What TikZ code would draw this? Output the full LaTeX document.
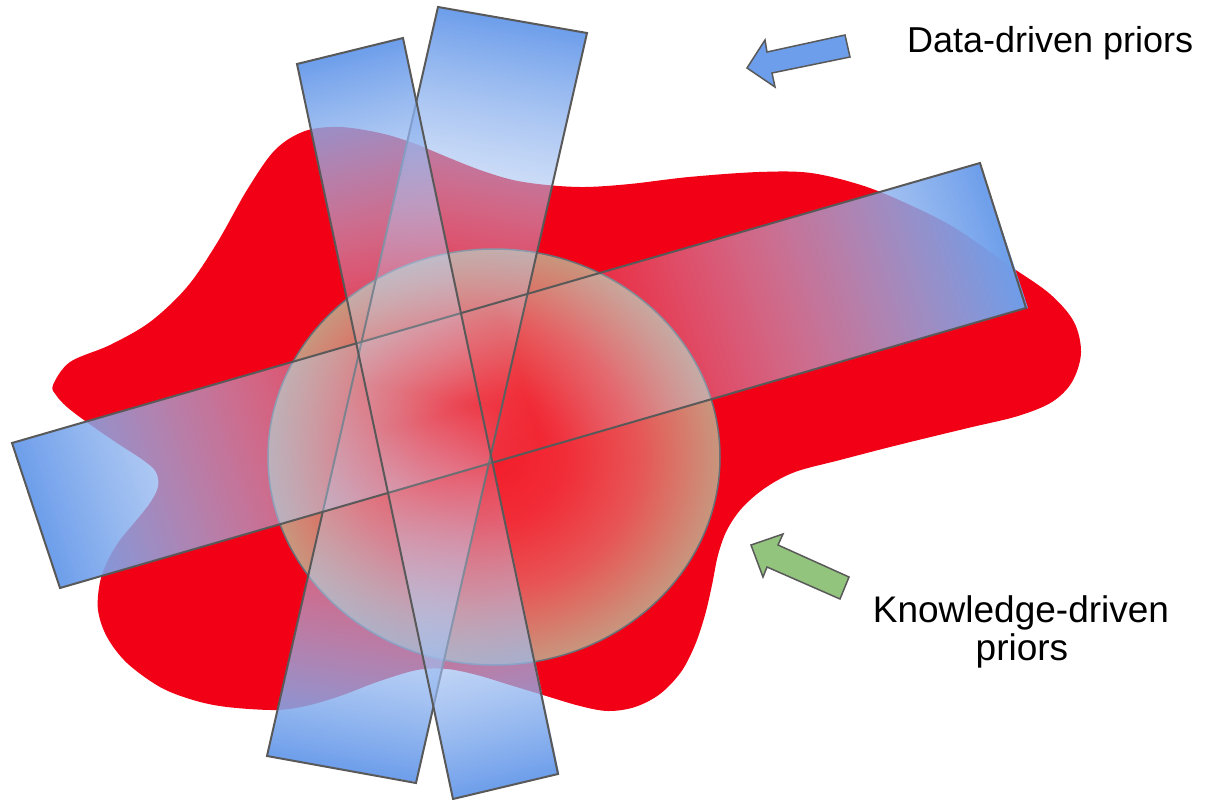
\documentclass[tikz,border=0pt]{standalone}
\usepackage{fontspec}
\setmainfont{Liberation Sans}
\usetikzlibrary{fadings}
\definecolor{blobred}{RGB}{242,0,22}
\definecolor{rblue}{RGB}{109,158,235}
\definecolor{rlight}{RGB}{178,202,243}
\definecolor{rwhite}{RGB}{222,233,252}
\definecolor{edgegrey}{RGB}{89,89,89}
\definecolor{circedge}{RGB}{105,112,118}
\definecolor{arrblue}{RGB}{109,158,235}
\definecolor{arrgreen}{RGB}{147,196,125}
\definecolor{fo}{gray}{1}
\definecolor{fm}{gray}{0.5}
\definecolor{ft}{gray}{0}
\definecolor{cc0}{RGB}{243,28,42}
\definecolor{cc1}{RGB}{241,45,56}
\definecolor{cc2}{RGB}{231,85,86}
\definecolor{cc3}{RGB}{215,122,107}
\definecolor{cc4}{RGB}{200,150,126}
\pgfdeclarehorizontalshading{rectshade}{100bp}{color(0bp)=(rblue); color(25bp)=(rblue); color(37bp)=(rlight); color(50bp)=(rwhite); color(63bp)=(rlight); color(75bp)=(rblue); color(100bp)=(rblue)}
\pgfdeclarehorizontalshading{rectfadeshade}{100bp}{color(0bp)=(fo); color(25bp)=(fo); color(50bp)=(ft); color(75bp)=(fo); color(100bp)=(fo)}
\pgfdeclareradialshading{circshade}{\pgfpointorigin}{color(0bp)=(cc0); color(8bp)=(cc1); color(16bp)=(cc2); color(21bp)=(cc3); color(25bp)=(cc4); color(50bp)=(cc4)}
\tikzfading[name=rectfade, shading=rectfadeshade]
\tikzset{
  rectfill/.style={shading=rectshade, path fading=rectfade},
  rectedge/.style={draw=edgegrey, line width=2pt, line join=miter},
  arrowshape/.style={draw=edgegrey, line width=1.5pt, line join=miter},
  lbl/.style={inner sep=0pt, text=black},
}
\begin{document}
\begin{tikzpicture}[x=1pt,y=-1pt]
\useasboundingbox (0,0) rectangle (1211,800);
\fill[white] (0,0) rectangle (1211,800);
% red blob
\fill[blobred] plot[smooth cycle, tension=0.55] coordinates {
(53,385) (70,362) (110,345) (150,322) (187,287) (217,243) (247,190) (275,150)
(305,131) (340,127) (380,133) (413,143) (447,157) (480,170) (513,180) (547,185)
(585,187) (630,184) (689,177) (759,172) (811,173) (864,186) (910,205) (955,228)
(1010,266) (1050,294) (1074,322) (1081,353) (1072,382) (1052,402) (1018,416)
(968,428) (898,445) (840,460) (795,472) (765,488) (742,508) (727,530) (718,555)
(712,585) (705,615) (695,645) (681,672) (660,694) (635,707) (608,711) (580,706)
(543,695) (510,685) (477,675) (447,669) (417,670) (377,682) (343,695) (310,705)
(277,710) (227,707) (193,700) (160,687) (127,663) (107,637) (98,610) (100,582)
(108,560) (120,540) (135,522) (150,503) (158,487) (156,472) (143,460) (117,443)
(88,423) (67,407) (56,395)};
% circle
\shade[shading=circshade] (494,457) ellipse [x radius=226, y radius=208];
\draw[circedge, line width=1.5pt] (494,457) ellipse [x radius=226, y radius=208];
% rect B
\begin{scope}[transform canvas={cm={-1.71,-7.49,1.49,-0.26,(438,7)}}]
  \shade[rectfill] (0pt,0pt) rectangle (100pt,100pt);
\end{scope}
\coordinate (b1) at (438,7); \coordinate (b2) at (587,33);
\coordinate (b3) at (416,783); \coordinate (b4) at (267,756);
\path[rectedge] (b1) -- (b2) -- (b3) -- (b4) -- cycle;
% rect C
\begin{scope}[transform canvas={cm={9.68,2.80,0.48,-1.45,(12,443)}}]
  \shade[rectfill] (0pt,0pt) rectangle (100pt,100pt);
\end{scope}
\coordinate (c1) at (12,443); \coordinate (c2) at (980,163);
\coordinate (c3) at (1026,308); \coordinate (c4) at (60,588);
\path[rectedge] (c1) -- (c2) -- (c3) -- (c4) -- cycle;
% rect A
\begin{scope}[transform canvas={cm={1.56,-7.35,1.06,0.26,(297,64)}}]
  \shade[rectfill] (0pt,0pt) rectangle (100pt,100pt);
\end{scope}
\coordinate (a1) at (297,64); \coordinate (a2) at (403,38);
\coordinate (a3) at (558,774); \coordinate (a4) at (453,799);
\path[rectedge] (a1) -- (a2) -- (a3) -- (a4) -- cycle;
% arrows
\path[arrowshape, fill=arrblue] (747,68) -- (765,40) -- (767,52) -- (845,35) -- (850,57) -- (772,73) -- (775,87) -- cycle;
\path[arrowshape, fill=arrgreen] (751,545) -- (783,534) -- (778,545) -- (849,577) -- (840,599) -- (767,567) -- (763,577) -- cycle;
% labels
\node[lbl, anchor=base west, font=\fontsize{36}{41}\selectfont] (dd) at (907,53) {Data-driven priors};
\node[lbl, anchor=base, font=\fontsize{37}{42}\selectfont] (kd1) at (1021,622) {Knowledge-driven};
\node[lbl, anchor=base, font=\fontsize{37}{42}\selectfont] (kd2) at (1022,660) {priors};
\end{tikzpicture}
\end{document}
